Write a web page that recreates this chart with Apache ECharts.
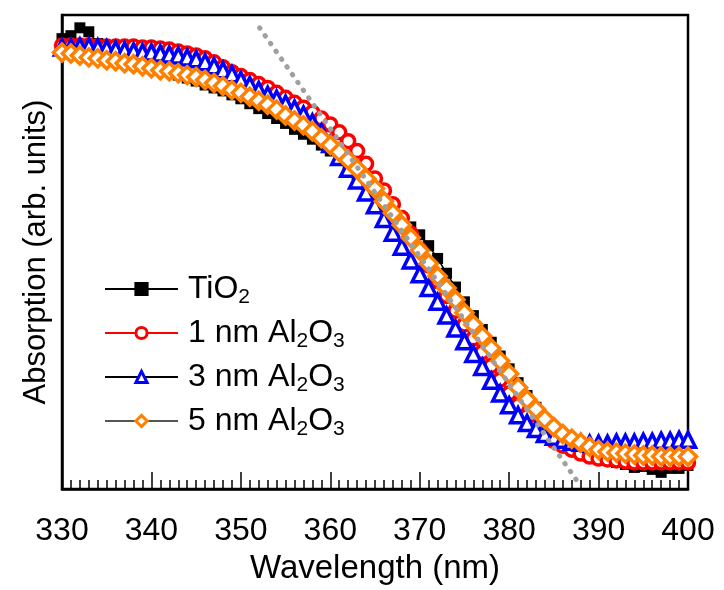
<!DOCTYPE html>
<html>
<head>
<meta charset="utf-8">
<script src="https://cdn.jsdelivr.net/npm/echarts@6/dist/echarts.min.js"></script>
<style>html,body{margin:0;padding:0;background:#fff;}#c{width:724px;height:590px;}</style>
</head>
<body>
<div id="c"></div>
<script>
const wavelengths = [330,331,332,333,334,335,336,337,338,339,340,341,342,343,344,345,346,347,348,349,350,351,352,353,354,355,356,357,358,359,360,361,362,363,364,365,366,367,368,369,370,371,372,373,374,375,376,377,378,379,380,381,382,383,384,385,386,387,388,389,390,391,392,393,394,395,396,397,398,399,400];
const tio2 = [457,460,468,464,452,448,446,445,443,441,433,429,424,420,417,414,410,407,404,400,396,391,386,381,376,371,365,360,355,349,343,336,328,319,309,299,290,283,274,266,258,247,234,219,205,190,176,162,149,135,122,108,95,83,71,60,51,44,38,34,31,29,27,25,22,23,20,17,21,21,24];
const al1 = [450,450,450,450,449,449,449,449,449,448,448,447,446,444,442,440,437,433,428,423,419,415,411,407,402,397,392,387,382,376,370,362,353,343,330,315,303,289,275,259,243,227,211,196,181,167,153,139,125,111,97,85,74,64,56,49,44,40,36,33,31,30,29,28,27,27,27,27,27,27,27];
const al3 = [448,448,449,449,448,447,446,445,444,443,443,442,441,440,438,436,433,429,425,421,415,410,405,400,396,391,386,380,372,362,350,337,325,313,301,288,274,260,246,232,218,204,190,176,163,150,137,124,110,97,85,75,67,61,56,53,50,48,47,46,46,46,47,47,47,48,48,49,49,50,50];
const al5 = [443,442,440,438,437,435,434,432,431,429,427,425,424,422,420,418,415,412,409,405,402,398,394,390,385,379,374,369,363,356,349,342,334,325,315,305,292,280,268,255,242,229,216,204,192,179,167,155,143,130,117,103,91,81,71,63,56,51,47,43,40,38,37,36,35,34,34,33,33,33,33];
const fitX = [352.1, 387.7];
const fitY = [468, 7];
const xTicks = [330,340,350,360,370,380,390,400];
const names = ['TiO2','1 nm Al2O3','3 nm Al2O3','5 nm Al2O3'];
const legendLabels = {
  'TiO2': '{f|TiO}{s|2}',
  '1 nm Al2O3': '{f|1 nm Al}{s|2}{n|O}{s|3}',
  '3 nm Al2O3': '{f|3 nm Al}{s|2}{n|O}{s|3}',
  '5 nm Al2O3': '{f|5 nm Al}{s|2}{n|O}{s|3}'
};

const FONT = "'Liberation Sans', Arial, sans-serif";
function pairs(ys){ return wavelengths.map((w,i)=>[w, ys[i]]); }

const chart = echarts.init(document.getElementById('c'), null, {renderer:'canvas'});
chart.setOption({
  animation: false,
  backgroundColor: '#fff',
  grid: {left: 62, right: 36, top: 15, bottom: 94, show: true, borderColor: '#000', borderWidth: 2.5, backgroundColor: 'transparent'},
  xAxis: {
    type: 'value', min: 330, max: 400, interval: 10,
    name: 'Wavelength (nm)', nameLocation: 'middle', nameGap: 55,
    nameTextStyle: {fontFamily: FONT, fontSize: 33, color: '#000'},
    axisLine: {show: true, lineStyle: {color: '#000', width: 2.5}},
    axisTick: {show: true, inside: true, length: 17, lineStyle: {color: '#000', width: 1.5}},
    minorTick: {show: true, splitNumber: 10, length: 9, lineStyle: {color: '#000', width: 1.5}},
    axisLabel: {fontFamily: FONT, fontSize: 32, color: '#000', margin: 26,
      formatter: v => xTicks.includes(v) ? String(v) : ''},
    splitLine: {show: false}
  },
  yAxis: {
    type: 'value', min: 0, max: 481,
    name: 'Absorption (arb. units)', nameLocation: 'middle', nameGap: 10,
    nameTextStyle: {fontFamily: FONT, fontSize: 31, color: '#000'},
    axisLine: {show: true, lineStyle: {color: '#000', width: 2.5}},
    axisTick: {show: false}, axisLabel: {show: false}, splitLine: {show: false}
  },
  legend: {
    data: names, orient: 'vertical', left: 104, top: 273, padding: 0,
    itemWidth: 73, itemHeight: 14, itemGap: 9,
    formatter: n => legendLabels[n],
    itemStyle: {borderWidth: 3},
    textStyle: {
      fontFamily: FONT, fontSize: 32, color: '#000',
      rich: {
        f: {fontFamily: FONT, fontSize: 32, color: '#000', lineHeight: 38, padding: [0,0,0,5]},
        n: {fontFamily: FONT, fontSize: 32, color: '#000', lineHeight: 38},
        s: {fontFamily: FONT, fontSize: 21, color: '#000', lineHeight: 14, verticalAlign: 'bottom'}
      }
    }
  },
  series: [
    {name: names[0], type: 'line', data: pairs(tio2), symbol: 'rect', symbolSize: 11, showAllSymbol: true,
     lineStyle: {color: '#000', width: 1.5}, itemStyle: {color: '#000', borderColor: '#000', borderWidth: 0}},
    {name: names[1], type: 'line', data: pairs(al1), symbol: 'circle', symbolSize: 13, showAllSymbol: true,
     lineStyle: {color: '#ff0000', width: 1.5}, itemStyle: {color: '#fff', borderColor: '#ff0000', borderWidth: 3.5}},
    {name: names[2], type: 'line', data: pairs(al3), symbol: 'triangle', symbolSize: 15, showAllSymbol: true,
     lineStyle: {color: '#000', width: 1.5}, itemStyle: {color: '#fff', borderColor: '#0000ff', borderWidth: 3.5}},
    {name: names[3], type: 'line', data: pairs(al5), symbol: 'diamond', symbolSize: 17, showAllSymbol: true,
     lineStyle: {color: '#555', width: 1.5}, itemStyle: {color: '#fff', borderColor: '#ff8000', borderWidth: 3.5}},
    {name: 'fit', type: 'line', data: fitX.map((x,i)=>[x, fitY[i]]), symbol: 'none', silent: true,
     lineStyle: {color: '#a0a0a0', width: 5, type: [0.5, 9], cap: 'round'}, z: 5}
  ]
});
</script>
</body>
</html>
